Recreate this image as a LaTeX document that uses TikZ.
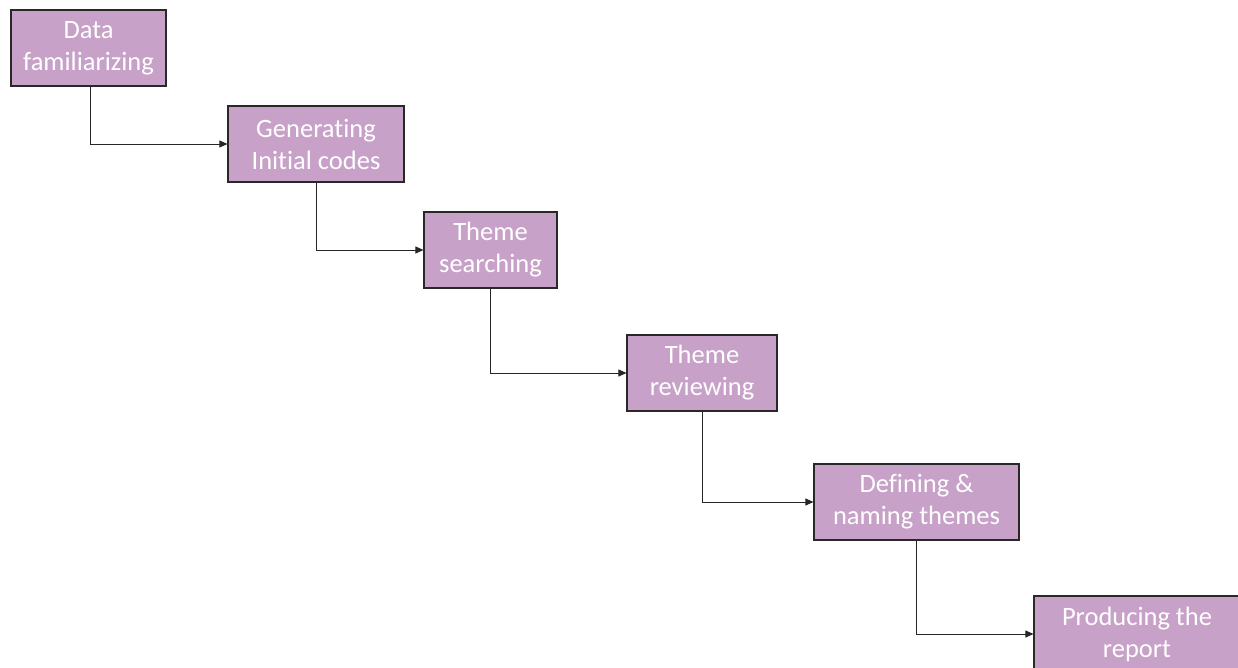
\documentclass[tikz,border=0pt]{standalone}
\usepackage{fontspec}
\setmainfont[Ligatures=NoCommon]{Carlito}
\usetikzlibrary{arrows.meta}
\definecolor{boxfill}{RGB}{200,161,200}
\definecolor{boxline}{RGB}{40,40,40}
\tikzset{
  stepbox/.style={draw=boxline, line width=1.1pt, fill=boxfill, text=white, align=center,
    inner sep=0pt, font=\fontsize{26.5}{32}\selectfont},
  conn/.style={draw=black!85, line width=0.8pt, -{Triangle[length=8pt,width=7pt]}}
}
\begin{document}
\begin{tikzpicture}[x=1pt,y=-1pt]
\useasboundingbox (0,0) rectangle (1238,668);
\begin{scope}
\clip (0,0) rectangle (1238,668);
\node[stepbox, minimum width=155pt, minimum height=76pt] (n1) at (88.5,48) {Data\\familiarizing};
\node[stepbox, minimum width=176pt, minimum height=76pt] (n2) at (316,144) {Generating\\Initial codes};
\node[stepbox, minimum width=133pt, minimum height=76pt] (n3) at (490.5,250) {Theme\\searching};
\node[stepbox, minimum width=150pt, minimum height=76pt] (n4) at (702,373) {Theme\\reviewing};
\node[stepbox, minimum width=205pt, minimum height=76pt] (n5) at (916.5,502) {Defining \&\\naming themes};
\node[stepbox, minimum width=206pt, minimum height=76pt] (n6) at (1137,634) {Producing the\\report};
\draw[conn] ([xshift=1.5pt]n1.south) |- (n2.west);
\draw[conn] (n2.south) |- (n3.west);
\draw[conn] (n3.south) |- (n4.west);
\draw[conn] (n4.south) |- (n5.west);
\draw[conn] (n5.south) |- (n6.west);
\end{scope}
\end{tikzpicture}
\end{document}
